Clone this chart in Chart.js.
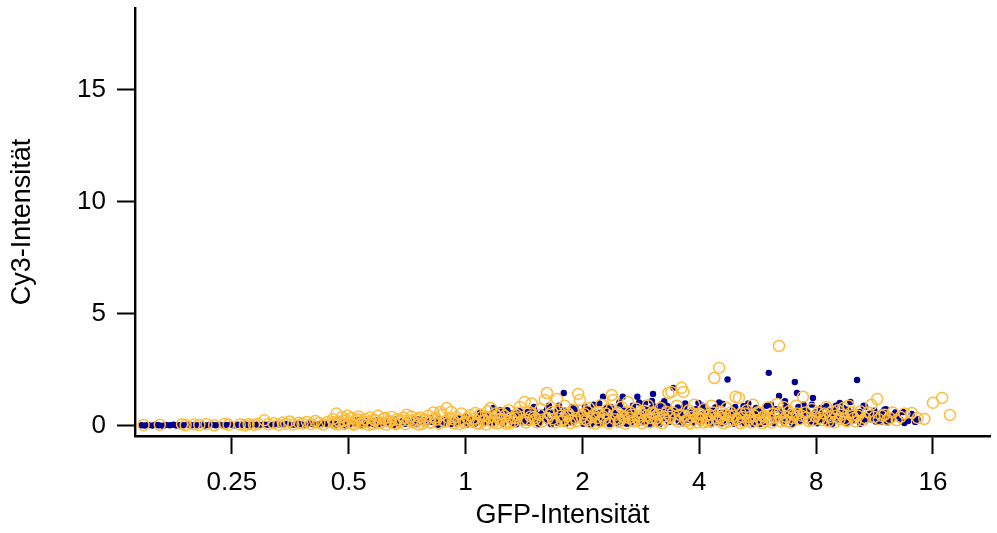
<!DOCTYPE html>
<html>
<head>
<meta charset="utf-8">
<title>GFP / Cy3</title>
<script src="https://cdn.jsdelivr.net/npm/chart.js@4.4.1/dist/chart.umd.min.js"></script>
<style>
  html, body { margin: 0; padding: 0; background: #fff; }
  canvas { display: block; }
</style>
</head>
<body>
<canvas id="c" width="997" height="533"></canvas>
<script>
// Axis ticks
const xTicks = [0.25, 0.5, 1, 2, 4, 8, 16];
const xTickLabels = ['0.25', '0.5', '1', '2', '4', '8', '16'];
const yTicks = [0, 5, 10, 15];
const yTickLabels = ['0', '5', '10', '15'];

// Series 1 (filled dark blue dots): GFP intensity and matching Cy3 intensity
const gfpBlue = [
  0.146,0.149,0.152,0.156,0.159,0.162,0.166,0.169,0.173,0.177,0.18,0.184,0.188,0.192,0.196,0.2,0.204,0.209,0.213,0.218,0.222,0.227,0.232,0.237,0.242,0.248,0.253,0.259,0.264,0.27,0.276,0.283,0.289,0.296,0.302,0.309,0.316,0.323,0.331,0.339,0.346,0.354,0.362,0.371,0.379,0.388,0.397,0.405,0.415,0.424,0.434,0.444,
  0.455,0.462,0.47,0.478,0.487,0.495,0.503,0.512,0.52,0.53,0.54,0.55,0.56,0.57,0.58,0.59,0.6,0.612,0.625,0.636,0.648,0.66,0.672,0.685,0.698,0.71,0.724,0.738,0.752,0.766,0.78,0.795,0.81,0.826,0.842,0.858,0.874,0.89,0.907,0.925,0.943,0.961,0.98,1.0,1.02,
  1.04,1.06,1.08,1.1,1.12,1.14,1.16,1.18,1.2,1.22,1.24,1.26,1.28,1.3,1.32,1.34,1.36,1.38,1.4,1.43,1.46,1.49,1.52,1.55,1.58,1.61,1.64,1.67,1.7,1.73,1.76,1.79,1.82,1.85,1.88,1.91,1.94,1.97,
  2.02,2.05,2.08,2.11,2.14,2.17,2.2,2.23,2.26,2.29,2.33,2.37,2.41,2.45,2.49,2.54,2.58,2.62,2.66,2.7,2.74,2.77,2.82,2.86,2.9,2.95,3.0,3.02,3.04,3.08,3.13,3.18,3.23,3.28,3.31,3.36,3.43,3.48,3.54,3.6,3.66,3.72,3.78,3.85,3.92,3.98,
  4.05,4.12,4.19,4.26,4.33,4.4,4.47,4.55,4.6,4.66,4.73,4.8,4.88,4.96,5.04,5.12,5.2,5.28,5.33,5.4,5.5,5.6,5.7,5.79,5.88,5.96,6.04,6.1,6.2,6.3,6.42,6.5,6.6,6.7,6.8,6.9,7.05,7.14,7.2,7.3,7.42,7.55,7.68,7.85,7.95,
  8.1,8.25,8.4,8.55,8.7,8.85,9.0,9.2,9.35,9.5,9.65,9.8,9.95,10.2,10.35,10.5,10.7,10.9,11.1,11.3,11.5,11.7,11.9,12.1,12.3,12.5,12.8,13.2,13.5,14.1,14.4,
  0.458,0.474,0.49,0.507,0.525,0.545,0.565,0.585,0.606,0.63,0.652,0.676,0.703,0.73,0.757,0.785,0.818,0.85,0.88,0.915,0.95,0.99,1.01,
  1.05,1.07,1.09,1.11,1.13,1.15,1.17,1.19,1.21,1.25,1.27,1.31,1.35,1.39,1.42,1.45,1.48,1.51,1.54,1.57,1.6,1.63,1.66,1.69,1.72,1.75,1.81,1.87,1.9,1.96,
  2.01,2.04,2.07,2.1,2.13,2.16,2.19,2.22,2.25,2.31,2.35,2.39,2.43,2.47,2.51,2.56,2.6,2.64,2.68,2.72,2.79,2.84,2.88,2.93,2.98,3.06,3.11,3.16,3.21,3.26,3.34,3.4,3.5,3.63,3.75,3.88,3.95,
  4.02,4.09,4.15,4.22,4.29,4.36,4.44,4.51,4.58,4.69,4.77,4.84,4.92,5.0,5.08,5.16,5.24,5.36,5.45,5.55,5.65,5.75,5.84,5.92,6.15,6.25,6.38,6.55,6.75,6.95,7.1,7.35,7.6,7.75,7.9,
  8.05,8.2,8.35,8.6,8.8,9.1,9.3,9.6,9.9,10.1,10.4,10.8,11.0,11.4,11.8,12.2,12.6,13.0,13.8,14.6,
  1.09,1.16,1.23,1.3,1.37,1.44,1.5,1.56,1.62,1.68,1.74,1.8,1.86,1.92,2.03,2.12,2.21,2.3,2.4,2.5,2.6,2.7,2.8,2.92,3.05,3.15,3.25,3.38,3.52,3.68,
  3.82,4.08,4.3,4.5,4.7,4.95,5.15,5.35,5.6,5.85,6.12,6.4,6.65,6.88,7.2,7.5,7.8,8.15,8.5,8.9,9.4,9.9,10.6,11.2,12.0,12.7,13.4
];
const cy3Blue = [
  0.03,0.02,0.04,0.02,0.05,0.03,0.01,0.04,0.03,0.05,0.02,0.04,0.03,0.06,0.02,0.04,0.03,0.05,0.02,0.04,0.06,0.03,0.05,0.02,0.04,0.06,0.03,0.05,0.04,0.07,0.03,0.05,0.06,0.04,0.07,0.05,0.03,0.08,0.06,0.04,0.09,0.06,0.05,0.1,0.07,0.04,0.11,0.08,0.06,0.12,0.09,0.07,
  0.14,0.06,0.1,0.18,0.08,0.13,0.05,0.2,0.11,0.16,0.07,0.22,0.12,0.09,0.18,0.26,0.1,0.15,0.21,0.08,0.17,0.28,0.12,0.2,0.09,0.24,0.15,0.31,0.11,0.19,0.26,0.13,0.35,0.22,0.16,0.29,0.1,0.38,0.2,0.27,0.14,0.33,0.22,0.4,0.17,
  0.3,0.12,0.45,0.22,0.35,0.15,0.52,0.8,0.28,0.6,0.18,0.42,0.7,0.33,0.12,0.55,0.25,0.66,0.4,0.2,0.5,0.75,0.3,0.14,0.6,0.38,0.9,0.22,0.48,0.7,0.32,1.47,0.55,0.18,0.85,0.4,0.62,0.26,
  0.45,0.2,0.72,0.35,0.95,0.15,0.55,0.28,1.3,0.62,0.4,0.85,0.2,0.5,1.05,1.3,0.32,0.7,0.12,0.9,0.45,1.3,0.25,0.6,1.0,0.38,0.78,1.12,1.43,0.5,0.22,0.95,0.6,0.3,0.89,0.48,1.7,0.7,0.2,0.55,0.85,0.35,0.62,0.15,0.75,1.03,
  0.4,0.25,0.68,0.12,0.5,0.82,0.3,0.58,0.98,0.2,2.07,0.45,0.72,0.15,0.55,0.35,0.88,0.25,0.76,0.48,0.1,0.62,0.38,0.67,0.2,0.9,2.37,0.5,0.3,0.75,1.34,0.45,0.15,0.85,0.58,0.32,1.96,1.47,0.7,0.22,0.95,0.5,0.35,1.25,0.6,
  0.3,0.8,0.45,0.15,0.65,0.38,0.9,1.03,0.25,0.55,0.72,1.07,0.4,2.05,0.62,0.2,0.85,0.45,0.3,0.68,0.5,0.18,0.36,0.75,0.42,0.25,0.6,0.27,0.13,0.54,0.18,
  0.04,0.12,0.03,0.09,0.25,0.05,0.14,0.06,0.2,0.11,0.04,0.16,0.22,0.07,0.3,0.09,0.18,0.05,0.24,0.08,0.12,0.28,0.06,
  0.08,0.38,0.2,0.1,0.5,0.3,0.06,0.25,0.42,0.1,0.32,0.55,0.08,0.2,0.45,0.15,0.35,0.62,0.1,0.28,0.5,0.2,0.08,0.58,0.15,0.4,0.1,0.35,0.2,0.5,
  0.1,0.55,0.3,0.08,0.42,0.22,0.12,0.6,0.15,0.3,0.08,0.5,0.38,0.12,0.25,0.68,0.1,0.45,0.3,0.6,0.15,0.4,0.2,0.7,0.1,0.32,0.55,0.08,0.4,0.62,0.18,0.35,0.5,0.12,0.28,0.45,0.3,
  0.15,0.55,0.3,0.42,0.08,0.62,0.18,0.35,0.12,0.48,0.25,0.6,0.1,0.32,0.2,0.5,0.12,0.38,0.22,0.7,0.3,0.1,0.45,0.18,0.6,0.12,0.35,0.55,0.25,0.1,0.42,0.3,0.6,0.15,0.28,
  0.12,0.5,0.25,0.4,0.1,0.3,0.6,0.15,0.22,0.45,0.1,0.3,0.55,0.2,0.6,0.15,0.35,0.45,0.22,0.3,
  0.6,0.45,0.7,0.55,0.4,0.62,0.85,0.5,0.72,0.6,0.9,0.68,0.5,0.78,0.85,0.62,1.0,0.8,0.65,0.92,0.55,0.75,1.05,0.62,0.88,0.7,1.1,0.6,0.82,1.0,
  0.68,0.9,0.7,1.05,0.6,0.85,0.65,1.0,0.8,0.55,0.95,0.72,1.1,0.6,0.85,0.7,0.95,0.62,0.88,0.7,0.8,0.6,0.9,0.55,0.72,0.5,0.62
];

// Series 2 (open orange circles): GFP intensity and matching Cy3 intensity
const gfpOrange = [
  0.148,0.163,0.186,0.19,0.2,0.206,0.215,0.225,0.24,0.245,0.262,0.27,0.276,0.285,0.292,0.303,0.31,0.32,0.33,0.338,0.345,0.352,0.36,0.372,0.38,0.39,0.4,0.41,0.42,0.43,0.44,
  0.455,0.46,0.465,0.472,0.48,0.487,0.494,0.5,0.508,0.515,0.523,0.53,0.54,0.55,0.56,0.567,0.575,0.585,0.595,0.604,0.615,0.625,0.635,0.645,0.656,0.667,0.678,0.69,0.7,0.712,0.725,0.738,0.75,0.762,0.775,0.788,0.8,0.813,0.826,0.84,0.853,0.866,0.88,0.894,0.905,0.918,0.93,0.945,0.96,0.975,0.99,1.01,1.025,
  1.04,1.06,1.08,1.1,1.12,1.14,1.16,1.18,1.2,1.22,1.24,1.27,1.29,1.31,1.33,1.35,1.38,1.42,1.44,1.46,1.48,1.5,1.53,1.56,1.6,1.62,1.65,1.68,1.72,1.74,1.77,1.8,1.83,1.86,1.89,1.92,1.95,1.97,
  2.02,2.05,2.08,2.12,2.16,2.2,2.24,2.28,2.32,2.38,2.4,2.44,2.48,2.52,2.56,2.62,2.66,2.7,2.75,2.8,2.85,2.9,2.95,3.0,3.06,3.12,3.18,3.24,3.3,3.33,3.39,3.45,3.5,3.56,3.6,3.64,3.7,3.76,3.82,3.88,3.94,4.0,
  4.06,4.12,4.18,4.24,4.3,4.37,4.42,4.5,4.55,4.62,4.7,4.78,4.86,4.96,5.06,5.12,5.2,5.3,5.4,5.5,5.6,5.7,5.8,5.9,6.0,6.1,6.2,6.35,6.42,6.5,6.6,6.7,6.8,6.9,7.0,7.1,7.25,7.4,7.5,7.65,7.8,7.95,
  8.1,8.3,8.5,8.7,8.9,9.1,9.3,9.5,9.7,9.9,10.1,10.4,10.7,11.1,11.5,11.8,12.2,12.6,13.2,14.1,15.2,16.0,16.9,17.7,
  0.457,0.469,0.484,0.497,0.511,0.527,0.545,0.563,0.58,0.6,0.62,0.64,0.662,0.684,0.706,0.73,0.756,0.782,0.808,0.835,0.86,0.887,0.925,0.965,1.0,
  1.05,1.07,1.09,1.11,1.13,1.15,1.17,1.19,1.21,1.23,1.26,1.28,1.3,1.34,1.37,1.4,1.43,1.47,1.51,1.55,1.58,1.63,1.67,1.7,1.76,1.79,1.84,1.88,1.93,1.99,
  2.03,2.06,2.1,2.14,2.18,2.22,2.26,2.3,2.34,2.42,2.46,2.5,2.54,2.58,2.64,2.68,2.72,2.78,2.82,2.88,2.92,2.98,3.03,3.09,3.15,3.21,3.27,3.36,3.42,3.53,3.67,3.73,3.79,3.85,3.97,
  4.03,4.1,4.16,4.22,4.28,4.34,4.46,4.53,4.6,4.66,4.74,4.82,4.9,5.0,5.1,5.16,5.25,5.35,5.45,5.55,5.65,5.75,5.85,5.95,6.05,6.15,6.28,6.45,6.62,6.75,6.95,7.15,7.35,7.55,7.85,
  8.2,8.4,8.6,8.8,9.0,9.2,9.4,9.6,9.85,10.0,10.25,10.55,10.9,11.3,11.6,12.0,12.4,12.9,13.5,14.6
];
const cy3Orange = [
  0.04,0.05,0.08,0.03,0.06,0.04,0.07,0.03,0.1,0.05,0.06,0.03,0.08,0.05,0.09,0.25,0.07,0.12,0.05,0.15,0.09,0.2,0.06,0.14,0.1,0.18,0.08,0.22,0.13,0.06,0.17,
  0.3,0.1,0.55,0.2,0.4,0.08,0.28,0.15,0.35,0.05,0.22,0.42,0.12,0.3,0.18,0.38,0.08,0.25,0.45,0.15,0.32,0.06,0.22,0.4,0.12,0.3,0.18,0.36,0.08,0.25,0.42,0.14,0.3,0.38,0.1,0.22,0.45,0.15,0.6,0.28,0.1,0.5,0.2,0.8,0.35,0.62,0.12,0.4,0.25,0.55,0.15,0.35,0.48,
  0.2,0.58,0.1,0.4,0.25,0.65,0.8,0.15,0.45,0.3,0.55,0.1,0.7,0.35,0.2,0.5,0.85,1.07,0.28,0.62,1.0,0.4,0.15,0.75,1.16,1.47,0.5,0.3,1.2,0.65,0.22,0.9,0.45,0.12,0.7,0.35,1.43,1.16,
  0.55,0.25,0.8,0.4,0.1,0.62,0.95,0.3,0.72,1.38,1.16,0.5,0.18,0.85,0.38,1.07,0.6,0.25,0.78,0.45,0.12,0.68,0.92,0.35,0.55,0.2,0.8,0.42,0.62,1.47,1.52,0.3,0.9,0.5,1.7,1.52,0.22,0.7,0.4,0.95,0.15,0.55,
  0.3,0.75,0.2,0.5,0.9,2.14,0.35,2.59,0.62,0.12,0.8,0.45,0.25,1.3,1.25,0.55,0.18,0.7,0.4,0.95,0.25,0.6,0.12,0.45,0.82,0.3,0.55,0.98,3.57,0.2,0.85,0.4,0.65,0.15,0.5,0.9,0.3,1.3,0.6,0.22,0.75,0.42,
  0.6,0.25,0.85,0.4,0.15,0.7,0.5,0.3,0.9,0.45,0.2,0.65,0.35,0.94,1.2,0.45,0.28,0.6,0.4,0.58,0.31,1.03,1.25,0.49,
  0.18,0.06,0.22,0.45,0.1,0.3,0.2,0.05,0.28,0.12,0.35,0.2,0.08,0.25,0.5,0.22,0.06,0.3,0.15,0.38,0.62,0.2,0.3,0.08,0.2,
  0.32,0.12,0.5,0.22,0.06,0.38,0.2,0.55,0.12,0.3,0.45,0.2,0.12,0.35,0.6,0.25,0.15,0.42,0.3,0.5,0.2,0.35,0.62,0.15,0.45,0.3,0.55,0.25,0.2,0.4,
  0.3,0.65,0.15,0.5,0.35,0.2,0.42,0.55,0.12,0.3,0.6,0.25,0.45,0.1,0.35,0.5,0.2,0.3,0.62,0.25,0.45,0.15,0.6,0.32,0.5,0.12,0.28,0.4,0.6,0.2,0.45,0.3,0.12,0.55,0.35,
  0.5,0.15,0.45,0.3,0.2,0.6,0.25,0.4,0.3,0.5,0.2,0.6,0.45,0.3,0.12,0.4,0.55,0.25,0.15,0.45,0.6,0.3,0.42,0.2,0.35,0.15,0.4,0.6,0.3,0.2,0.35,0.55,0.45,0.38,0.25,
  0.35,0.55,0.2,0.65,0.45,0.3,0.8,0.2,0.6,0.35,0.45,0.25,0.6,0.4,0.3,0.5,0.35,0.25,0.55,0.35
];

const toPoints = (xs, ys) => xs.map((x, i) => ({ x: x, y: ys[i] }));

const FONT = "'Liberation Sans', Arial, Helvetica, sans-serif";

new Chart(document.getElementById('c'), {
  type: 'scatter',
  data: {
    datasets: [
      {
        label: 'Orange',
        data: toPoints(gfpOrange, cy3Orange),
        order: 0,
        pointRadius: 5.5,
        pointBorderWidth: 1.5,
        pointBorderColor: '#FFBB3C',
        pointBackgroundColor: 'rgba(0,0,0,0)'
      },
      {
        label: 'Blau',
        data: toPoints(gfpBlue, cy3Blue),
        order: 1,
        pointRadius: 3.2,
        pointBorderWidth: 0,
        pointBackgroundColor: '#000090'
      }
    ]
  },
  options: {
    responsive: false,
    animation: false,
    devicePixelRatio: 1,
    layout: { padding: { left: 0, top: 8, right: 7, bottom: 0 } },
    plugins: { legend: { display: false }, tooltip: { enabled: false } },
    scales: {
      x: {
        type: 'logarithmic',
        min: 0.1407,
        max: 22.44,
        afterBuildTicks: (s) => { s.ticks = xTicks.map(v => ({ value: v })); },
        afterFit: (s) => { s.height = 97; s.paddingLeft = 0; s.paddingRight = 0; },
        border: { display: true, color: '#000', width: 2.4 },
        grid: { drawOnChartArea: false, drawTicks: true, tickLength: 18, tickWidth: 2, tickColor: '#000' },
        ticks: {
          autoSkip: false,
          maxRotation: 0,
          padding: 13,
          color: '#000',
          font: { family: FONT, size: 26 },
          callback: (v, i) => xTickLabels[i]
        },
        title: {
          display: true,
          text: 'GFP-Intensität',
          color: '#000',
          font: { family: FONT, size: 27 },
          padding: { top: 0, bottom: 1 }
        }
      },
      y: {
        type: 'linear',
        min: -0.45,
        max: 18.66,
        afterBuildTicks: (s) => { s.ticks = yTicks.map(v => ({ value: v })); },
        afterFit: (s) => { s.width = 135; s.paddingTop = 0; s.paddingBottom = 0; },
        border: { display: true, color: '#000', width: 2.4 },
        grid: { drawOnChartArea: false, drawTicks: true, tickLength: 18, tickWidth: 2, tickColor: '#000' },
        ticks: {
          autoSkip: false,
          padding: 11,
          color: '#000',
          font: { family: FONT, size: 26 },
          callback: (v, i) => yTickLabels[i]
        },
        title: {
          display: true,
          text: 'Cy3-Intensität',
          color: '#000',
          font: { family: FONT, size: 27 },
          padding: { top: 6, bottom: 0 }
        }
      }
    }
  }
});
</script>
</body>
</html>
